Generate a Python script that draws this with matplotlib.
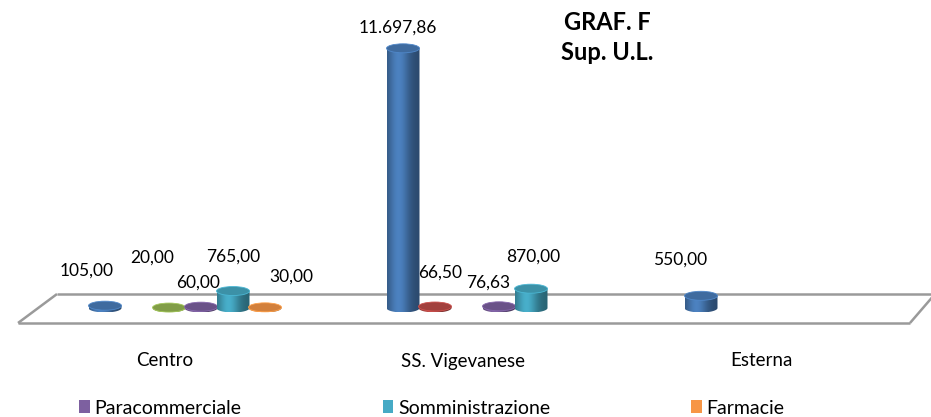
import matplotlib
matplotlib.use('Agg')
import matplotlib.pyplot as plt
import numpy as np
from matplotlib.patches import Ellipse, Polygon, Patch
import matplotlib.colors as mcolors

# ---------------- data ----------------
categories = ['Centro', 'SS. Vigevanese', 'Esterna']
series_names = ['Alimentare', 'Non alimentare', 'Misto',
                'Paracommerciale', 'Somministrazione', 'Farmacie']
s_alimentare = [105.00, 11697.86, 550.00]
s_non_alimentare = [None, 66.50, None]
s_misto = [20.00, None, None]
s_paracommerciale = [60.00, 76.63, None]
s_somministrazione = [765.00, 870.00, None]
s_farmacie = [30.00, None, None]
series_values = [s_alimentare, s_non_alimentare, s_misto,
                 s_paracommerciale, s_somministrazione, s_farmacie]
legend_names = ['Paracommerciale', 'Somministrazione', 'Farmacie']
title_lines = ['GRAF. F', 'Sup. U.L.']

# ---------------- style ----------------
colors = ['#4A7EBB', '#BE4B48', '#98B954', '#7D60A0', '#46AAC5', '#F79646']
label_offsets = {  # (series, category): pixel offset of label from bar top
    (0, 0): (-18, 35), (2, 0): (-17, 50), (3, 0): (-3, 24), (4, 0): (0, 34), (5, 0): (26, 31),
    (0, 1): (-5, 21), (1, 1): (5, 34), (3, 1): (-11, 24), (4, 1): (2, 32),
    (0, 2): (-21, 36),
}

W, H = 931, 417
PX_CAT = 298.0      # pixels per category
CAT0 = 165.0        # pixel x of first category
PX_VAL = 0.0222     # pixels per unit
BASE = 308.0        # pixel y of value 0
SLOT = 32.0
FIRST = -60.0
BAR_W = 33.0
ELL_H = 9.0

def px2x(px):
    return (px - CAT0) / PX_CAT

def py2y(py):
    return (BASE - py) / PX_VAL

def fmt_it(v):
    s = f"{v:,.2f}"
    return s.replace(',', 'X').replace('.', ',').replace('X', '.')

plt.rcParams['font.family'] = ['Lato', 'DejaVu Sans']

fig = plt.figure(figsize=(W / 100, H / 100), dpi=100)
ax = fig.add_axes([0, 0, 1, 1])
ax.axis('off')

# floor
floor_col = '#9A9A9A'
segs = [((57, 294), (940, 294)), ((18, 323), (57, 294)),
        ((18, 323), (910, 323)), ((910, 323), (935, 294))]
for (a, b) in segs:
    ax.plot([px2x(a[0]), px2x(b[0])], [py2y(a[1]), py2y(b[1])],
            color=floor_col, lw=1.8, solid_capstyle='butt', zorder=1)

w = BAR_W / PX_CAT
eh = ELL_H / PX_VAL
t = np.linspace(0, 1, 120)
shade = 0.58 + 0.45 * np.exp(-((t - 0.35) / 0.33) ** 2)

def cylinder(xc, v, color, z):
    base = np.array(mcolors.to_rgb(color))
    theta = np.linspace(np.pi, 2 * np.pi, 50)
    bx = xc + w / 2 * np.cos(theta)
    by = eh / 2 * np.sin(theta)
    verts = list(zip(bx, by)) + [(xc + w / 2, v), (xc - w / 2, v)]
    poly = Polygon(verts, closed=True, facecolor='none', edgecolor='none', zorder=z)
    ax.add_patch(poly)
    img = np.clip(base[None, None, :] * shade[None, :, None], 0, 1)
    im = ax.imshow(img, extent=[xc - w / 2, xc + w / 2, -eh / 2, v], aspect='auto',
                   interpolation='bilinear', zorder=z)
    im.set_clip_path(poly)
    topc = np.clip(base * 0.85, 0, 1)
    edgec = np.clip(base * 1.08, 0, 1)
    ax.add_patch(Ellipse((xc, v), w, eh, facecolor=topc, edgecolor=edgec, lw=0.6, zorder=z + 0.1))

z = 3
for ci in range(len(categories)):
    for si, vals in enumerate(series_values):
        v = vals[ci]
        if v is None:
            continue
        xc = ci + (FIRST + SLOT * si) / PX_CAT
        cylinder(xc, v, colors[si], z)
        z += 0.3
        dx, dy = label_offsets.get((si, ci), (0, 30))
        ax.annotate(fmt_it(v), xy=(xc, v), xytext=(dx, dy), textcoords='offset pixels',
                    ha='center', va='center', fontsize=12.5, color='#000000', zorder=50)

for ci, cat in enumerate(categories):
    ax.text(ci, py2y(361), cat, ha='center', va='center', fontsize=13.5, color='#000000')

fig.text(607 / W, 1 - 23 / H, title_lines[0], ha='center', va='center',
         fontsize=17, fontweight='bold')
fig.text(607 / W, 1 - 52 / H, title_lines[1], ha='center', va='center',
         fontsize=17, fontweight='bold')

handles = [Patch(facecolor=colors[series_names.index(n)], edgecolor='none') for n in legend_names]
fig.legend(handles, legend_names, ncol=3, loc='center left',
           bbox_to_anchor=(79 / W, 1 - 408 / H), frameon=False,
           handlelength=0.55, handleheight=0.65, handletextpad=0.25,
           columnspacing=7.25, fontsize=14, borderaxespad=0, borderpad=0)

ax.set_xlim(px2x(0), px2x(W))
ax.set_ylim(py2y(H), py2y(0))

fig.savefig('out.png', dpi=100)
